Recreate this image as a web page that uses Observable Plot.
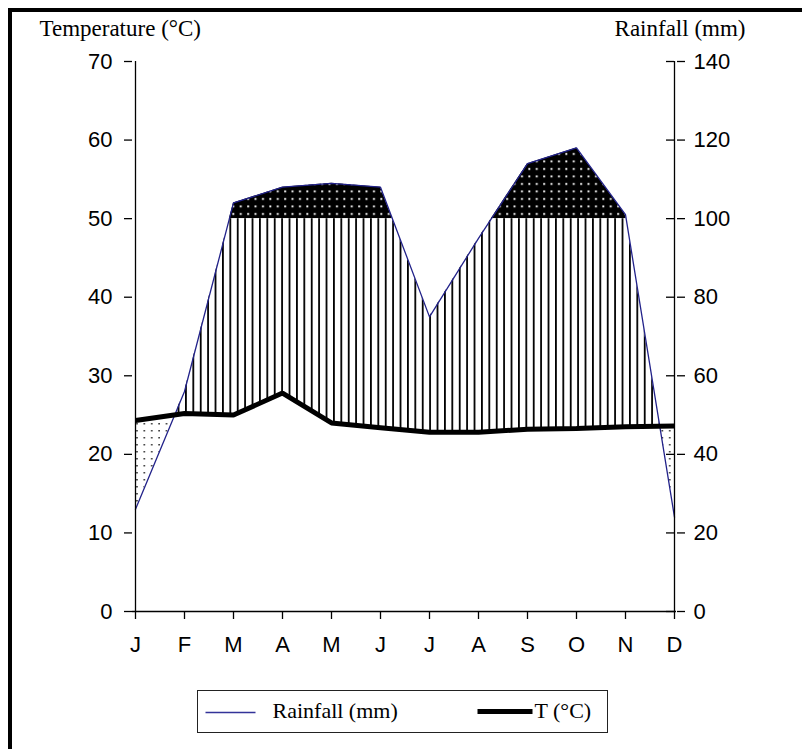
<!DOCTYPE html>
<html><head><meta charset="utf-8">
<script src="https://cdn.jsdelivr.net/npm/d3@7"></script>
<script src="https://cdn.jsdelivr.net/npm/@observablehq/plot@0.6"></script>
<style>
html,body{margin:0;padding:0;background:#fff;}
#wrap{position:relative;width:802px;height:749px;overflow:hidden;background:#fff;}
#wrap svg.plot{position:absolute;left:0;top:0;}
.bt{position:absolute;left:8px;top:8px;width:794px;height:4px;background:#000;}
.bl{position:absolute;left:8px;top:8px;width:4px;height:741px;background:#000;}
#legend{position:absolute;left:197px;top:690px;width:411px;height:43px;box-sizing:border-box;border:1.5px solid #222;font-family:"Liberation Serif","Times New Roman",serif;font-size:22px;line-height:22px;color:#000;}
#legend span{position:absolute;white-space:nowrap;}
</style></head>
<body><div id="wrap"></div>
<script>
const months = ["Jan","Feb","Mar","Apr","May","Jun","Jul","Aug","Sep","Oct","Nov","Dec"];
const monthLabels = ["J","F","M","A","M","J","J","A","S","O","N","D"];
const temperature = [24.3, 25.2, 25.0, 27.8, 24.0, 23.4, 22.8, 22.8, 23.2, 23.3, 23.5, 23.6];
const rainfall = [26, 56, 104, 108, 109, 108, 75, 95, 114, 118, 101, 24];
const tempTicks = [0, 10, 20, 30, 40, 50, 60, 70];
const rainTicks = [0, 20, 40, 60, 80, 100, 120, 140];
const wetThreshold = 100; // mm
const leftTitle = "Temperature (°C)";
const rightTitle = "Rainfall (mm)";

const tMax = tempTicks[tempTicks.length - 1];
const mmPerDegree = rainTicks[rainTicks.length - 1] / tMax;
const rows = months.map((m, i) => ({month: m, t: temperature[i], r: rainfall[i] / mmPerDegree}));
const wetLevel = wetThreshold / mmPerDegree;

const sans = "Liberation Sans, Arial, sans-serif";
const serif = "Liberation Serif, Times New Roman, serif";

// placeholder colours used to find the area groups after rendering
const KEY = {wet: "#010101", hatch: "#020202", stipple: "#030303", belowR: "#040404", aboveR: "#050505", aboveT: "#060606"};

const chart = Plot.plot({
  width: 802, height: 749,
  marginTop: 61, marginBottom: 138, marginLeft: 132, marginRight: 126,
  x: {type: "point", domain: months, padding: 0},
  y: {domain: [0, tMax]},
  marks: [
    Plot.areaY(rows, {x: "month", y1: () => wetLevel, y2: () => tMax, fill: KEY.wet}),
    Plot.areaY(rows, {x: "month", y1: () => 0, y2: () => wetLevel, fill: KEY.hatch}),
    Plot.areaY(rows, {x: "month", y1: () => 0, y2: "t", fill: KEY.stipple}),
    Plot.areaY(rows, {x: "month", y1: () => 0, y2: "r", fill: KEY.belowR}),
    Plot.areaY(rows, {x: "month", y1: "r", y2: () => tMax, fill: KEY.aboveR}),
    Plot.areaY(rows, {x: "month", y1: "t", y2: () => tMax, fill: KEY.aboveT}),
    Plot.lineY(rows, {x: "month", y: "r", stroke: "#22228a", strokeWidth: 1.3}),
    Plot.lineY(rows, {x: "month", y: "t", stroke: "#000", strokeWidth: 5, strokeLinecap: "butt", strokeLinejoin: "miter"}),
    Plot.ruleY([0], {stroke: "#000", strokeWidth: 1.3}),
    Plot.ruleX([months[0], months[months.length - 1]], {x: d => d, y1: () => 0, y2: () => tMax, stroke: "#000", strokeWidth: 1.3}),
    Plot.ruleY(tempTicks, {y: d => d, x1: () => months[months.length - 1], x2: () => months[months.length - 1], insetLeft: -8, stroke: "#000", strokeWidth: 1.3}),
    Plot.axisX({tickSize: 8, tickPadding: 17, strokeWidth: 1.3, tickFormat: d => monthLabels[months.indexOf(d)], fontSize: 22, fontFamily: sans, label: null}),
    Plot.axisY({anchor: "left", ticks: tempTicks, tickSize: 8, tickPadding: 12, strokeWidth: 1.3, tickFormat: d => String(d), fontSize: 22, fontFamily: sans, label: null}),
    Plot.axisY({anchor: "right", ticks: tempTicks, tickSize: 8, tickPadding: 9, strokeWidth: 1.3, tickFormat: d => String(rainTicks[tempTicks.indexOf(d)]), fontSize: 22, fontFamily: sans, label: null}),
    Plot.text([leftTitle], {text: d => d, frameAnchor: "top-left", dx: -93, dy: -26, textAnchor: "start", lineAnchor: "bottom", fontFamily: serif, fontSize: 23}),
    Plot.text([rightTitle], {text: d => d, frameAnchor: "top-right", dx: 69, dy: -26, textAnchor: "end", lineAnchor: "bottom", fontFamily: serif, fontSize: 23})
  ]
});
chart.classList.add("plot");

const wrap = document.getElementById("wrap");
wrap.appendChild(chart);

const svgns = "http://www.w3.org/2000/svg";
const svg = d3.select(chart);
const defs = svg.insert("defs", ":first-child");

// patterns
const ph = defs.append("pattern").attr("id", "hatch").attr("patternUnits", "userSpaceOnUse").attr("width", 7.4).attr("height", 10);
ph.append("rect").attr("width", 7.4).attr("height", 10).attr("fill", "#fff");
ph.append("rect").attr("x", 0).attr("width", 1.8).attr("height", 10).attr("fill", "#000");

const pb = defs.append("pattern").attr("id", "blackdots").attr("patternUnits", "userSpaceOnUse").attr("width", 7.4).attr("height", 7.5);
pb.append("rect").attr("width", 7.4).attr("height", 7.5).attr("fill", "#000");
pb.append("rect").attr("x", 3).attr("y", 3).attr("width", 1.9).attr("height", 1.9).attr("fill", "#fff");

const ps = defs.append("pattern").attr("id", "stipple").attr("patternUnits", "userSpaceOnUse").attr("width", 7.4).attr("height", 7);
ps.append("rect").attr("width", 7.4).attr("height", 7).attr("fill", "#fff");
ps.append("rect").attr("x", 3).attr("y", 3).attr("width", 1.5).attr("height", 1.5).attr("fill", "#222");

function findGroup(key) {
  const all = chart.querySelectorAll("g");
  for (const g of all) {
    const f = (g.getAttribute("fill") || "").toLowerCase();
    if (f === key) return g;
  }
  for (const p of chart.querySelectorAll("path")) {
    if ((p.getAttribute("fill") || "").toLowerCase() === key) return p.parentNode;
  }
  return null;
}

// clip paths from Plot-rendered areas
function makeClip(key, id) {
  const g = findGroup(key);
  const cp = defs.append("clipPath").attr("id", id).attr("clipPathUnits", "userSpaceOnUse");
  if (!g) return;
  const tr = g.getAttribute("transform");
  Array.from(g.querySelectorAll("path")).forEach(p => {
    if (tr) p.setAttribute("transform", tr);
    cp.node().appendChild(p);
  });
  g.remove();
}
makeClip(KEY.belowR, "cBelowR");
makeClip(KEY.aboveR, "cAboveR");
makeClip(KEY.aboveT, "cAboveT");

function clipWrap(key, pattern, ids) {
  let node = findGroup(key);
  if (!node) return;
  node.setAttribute("fill", `url(#${pattern})`);
  node.querySelectorAll("path").forEach(p => { if (p.getAttribute("fill")) p.setAttribute("fill", `url(#${pattern})`); });
  for (const id of ids) {
    const w = document.createElementNS(svgns, "g");
    w.setAttribute("clip-path", `url(#${id})`);
    node.parentNode.insertBefore(w, node);
    w.appendChild(node);
    node = w;
  }
}
clipWrap(KEY.wet, "blackdots", ["cBelowR"]);
clipWrap(KEY.hatch, "hatch", ["cAboveT", "cBelowR"]);
clipWrap(KEY.stipple, "stipple", ["cAboveR"]);

// border
const bt = document.createElement("div"); bt.className = "bt"; wrap.appendChild(bt);
const bl = document.createElement("div"); bl.className = "bl"; wrap.appendChild(bl);

// legend
const legend = document.createElement("div");
legend.id = "legend";
legend.innerHTML = `
<svg width="408" height="40" style="position:absolute;left:0;top:0;overflow:visible">
  <line x1="7.5" x2="57.5" y1="21.5" y2="21.5" stroke="#333399" stroke-width="1.5"/>
  <line x1="279.5" x2="334.5" y1="20.5" y2="20.5" stroke="#000" stroke-width="5"/>
</svg>
<span style="left:74.5px;top:9px">${rightTitle}</span>
<span style="left:336.5px;top:9px">T (°C)</span>`;
wrap.appendChild(legend);
</script>
</body></html>
